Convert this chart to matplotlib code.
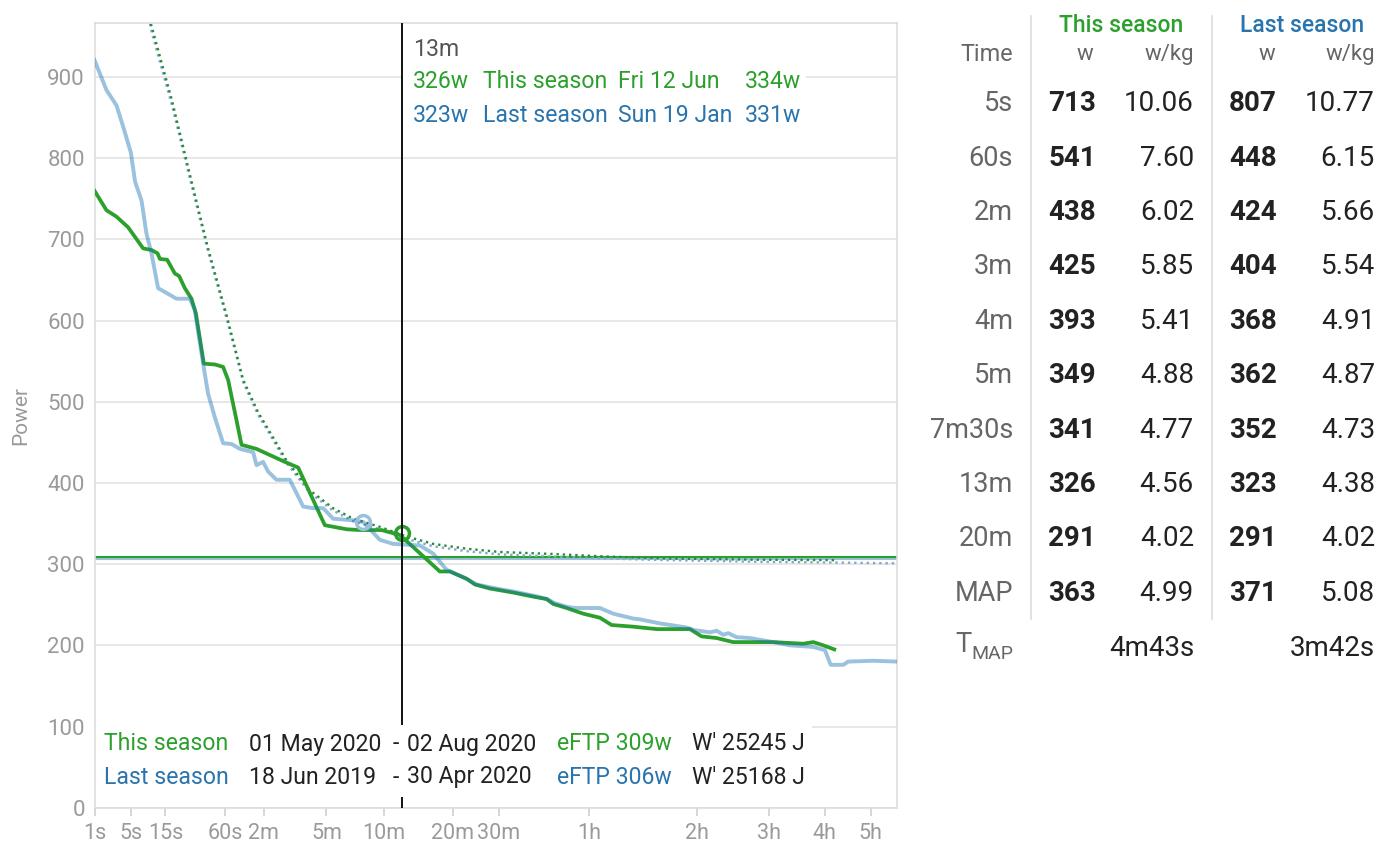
import numpy as np
import matplotlib
matplotlib.use("Agg")
import matplotlib.pyplot as plt
from matplotlib.patches import Rectangle
from matplotlib.lines import Line2D

plt.rcParams['font.family'] = ['Roboto', 'DejaVu Sans']

# ---------------- data ----------------
this_t = [1, 1.83, 2.86, 4.52, 7.65, 9.97, 11.95, 12.8, 15.7, 19.3, 21.5, 24.8, 29.1, 32.2,
          38.5, 48.6, 57.5, 63.4, 74.4, 81.5, 106, 167, 203.5, 294, 387.6, 455, 583, 711,
          1062, 1168, 1361, 1465, 1668, 2026, 2376, 2635, 2770, 3059, 3450, 3879, 4202,
          4852, 5637, 6915, 7413, 8087, 8889, 11060, 12933, 13610, 14309, 15110]
this_w = [760, 736, 728, 715, 689, 687, 683, 676, 675, 658, 655, 640, 627, 609,
          547, 546, 543, 527, 477, 447, 442, 426, 419, 348, 343, 342, 342, 336,
          291, 291, 282, 275, 270, 265, 260, 257, 251, 246, 239, 234, 225,
          223, 220, 220, 211, 209, 204, 204, 202, 204, 200, 195]

last_t = [1, 1.83, 2.86, 3.78, 5, 5.83, 7.25, 8.53, 9.97, 12.15, 16.1, 20.1, 28, 31.4,
          37.9, 42.2, 48.6, 57.5, 67.7, 79.1, 100.1, 106, 118.5, 128.6, 147, 180, 218.6,
          251, 287.5, 327.5, 420, 472.8, 572, 662, 873.8, 996, 1132, 1361, 1487, 1700,
          2050, 2400, 2650, 2800, 3100, 3290, 3879, 4248, 4852, 5067, 5755, 6779, 7053,
          7781, 8087, 8398, 8640, 9059, 9751, 11060, 12077, 13610, 14430, 14845, 15791,
          16178, 18226, 20311]
last_w = [921, 884, 865, 838, 807, 771, 748, 707, 683, 640, 633, 627, 627, 613,
          547, 510, 481, 449, 448, 442, 438, 422, 426, 414, 404, 404, 371,
          369, 369, 356, 354, 352, 330, 325, 323, 313, 293, 282, 275, 271,
          266, 261, 257, 252, 247, 246, 246, 239, 233, 232, 227, 222, 219,
          216, 218, 213, 215, 210, 209, 204, 200, 198, 194, 176, 176,
          180, 181, 180]

this_model_t = [7.5, 9.7, 17.9, 28, 42, 62, 84, 109, 125, 171, 240, 327, 420, 572, 763,
                996, 1361, 1816, 2770, 4000, 6000, 10000, 15100]
this_model_w = [1060, 967, 871, 780, 690, 605, 527, 487, 470, 428, 391, 369, 356, 346, 334,
                325, 319, 315, 312.5, 309.5, 307, 305.5, 305]
last_model_t = [7.5, 9.7, 17.9, 28, 42, 62, 84, 109, 125, 171, 240, 327, 420, 572, 763,
                996, 1361, 1816, 2770, 4000, 6000, 10000, 15100, 20311]
last_model_w = [1050, 960, 865, 775, 686, 601, 524, 484, 467, 425, 388, 366, 353, 343, 331,
                322, 316, 312, 309.5, 307, 305, 303, 302, 301]

eftp_this = 309
eftp_last = 306
cursor_t = 724
this_marker_t, this_marker_w = [724], [338]
last_marker_t, last_marker_w = [473], [352]

xtick_s = [1, 5, 15, 60, 120, 300, 600, 1200, 1800, 3600, 7200, 10800, 14400, 18000]
xtick_labels = ['1s', '5s', '15s', '60s', '2m', '5m', '10m', '20m', '30m', '1h', '2h', '3h', '4h', '5h']
ytick_vals = [0, 100, 200, 300, 400, 500, 600, 700, 800, 900]

tab_durations = ['5s', '60s', '2m', '3m', '4m', '5m', '7m30s', '13m', '20m', 'MAP']
tab_this_w = [713, 541, 438, 425, 393, 349, 341, 326, 291, 363]
tab_this_wkg = ['10.06', '7.60', '6.02', '5.85', '5.41', '4.88', '4.77', '4.56', '4.02', '4.99']
tab_last_w = [807, 448, 424, 404, 368, 362, 352, 323, 291, 371]
tab_last_wkg = ['10.77', '6.15', '5.66', '5.54', '4.91', '4.87', '4.73', '4.38', '4.02', '5.08']
tab_tmap = ['4m43s', '3m42s']

GREEN = '#2ca02c'
BLUE = '#1f77b4'
TXTBLUE = '#2a74ad'
GRAY = '#9a9a9a'

# ---------------- figure ----------------
W, H = 1400, 866
fig = plt.figure(figsize=(14, 8.66), dpi=100)
L, R, T, B = 94.5, 896.7, 22.7, 807.7
ax = fig.add_axes([L / W, 1 - B / H, (R - L) / W, (B - T) / H])


def fwd(x):
    x = np.asarray(x, dtype=float)
    return np.sign(x) * np.abs(x) ** 0.25


def inv(x):
    x = np.asarray(x, dtype=float)
    return np.sign(x) * np.abs(x) ** 4


ax.set_xscale('function', functions=(fwd, inv))
ax.set_xlim(1, 20311)
ax.set_ylim(0, 967)

for v in ytick_vals:
    ax.axhline(v, color='#e3e3e3', lw=1.2, zorder=0)

ax.axhline(eftp_last, color='#9cc0dc', lw=1.5, zorder=1)
ax.axhline(eftp_this, color=GREEN, lw=1.5, zorder=1)

ax.plot(last_model_t, last_model_w, color='#7fa9cf', lw=1.7, ls=':', zorder=2)
ax.plot(this_model_t, this_model_w, color='#2a8a3a', lw=1.7, ls=':', zorder=2)

ax.plot(this_t, this_w, color=GREEN, lw=2.7, zorder=3, solid_joinstyle='round')
ax.plot(last_t, last_w, color=BLUE, alpha=0.45, lw=2.8, zorder=4, solid_joinstyle='round')

ax.plot(last_marker_t, last_marker_w, 'o', ms=10, mfc='none', mec='#9cc0dc', mew=2.5, zorder=5)
ax.plot(this_marker_t, this_marker_w, 'o', ms=10, mfc='none', mec=GREEN, mew=2.5, zorder=5)

ax.axvline(cursor_t, color='#111111', lw=1.4, zorder=6)

for s in ax.spines.values():
    s.set_color('#dddddd')
    s.set_linewidth(1.2)

ax.set_xticks(xtick_s)
ax.set_xticklabels(xtick_labels)
ax.xaxis.set_minor_locator(matplotlib.ticker.NullLocator())
ax.set_yticks(ytick_vals)
ax.tick_params(axis='x', length=6, width=1.2, color='#d0d0d0', labelcolor=GRAY, labelsize=15.5, pad=5)
ax.tick_params(axis='y', length=0, labelcolor=GRAY, labelsize=16, pad=7)
ax.set_ylabel('Power', color=GRAY, fontsize=15, labelpad=12)


def px2ax(px, py):
    return (px - L) / (R - L), (B - py) / (B - T)


# legend box (white) at bottom
x0, y0 = px2ax(95.5, 797)
x1, y1 = px2ax(812, 725)
ax.add_patch(Rectangle((x0, y0), x1 - x0, y1 - y0, transform=ax.transAxes,
                       facecolor='white', edgecolor='none', zorder=7))
# tooltip box
x0, y0 = px2ax(403, 132)
x1, y1 = px2ax(806, 30)
ax.add_patch(Rectangle((x0, y0), x1 - x0, y1 - y0, transform=ax.transAxes,
                       facecolor='white', edgecolor='none', zorder=7))


def ft(px, py, s, **kw):
    kw.setdefault('va', 'center')
    fig.text(px / W, 1 - py / H, s, zorder=10, **kw)


# tooltip text
FS = 16.6
ft(412.7, 50, '13m', color='#555555', fontsize=FS)
ft(412.7, 82, '326w', color=GREEN, fontsize=FS)
ft(482.7, 82, 'This season', color=GREEN, fontsize=FS)
ft(618.3, 82, 'Fri 12 Jun', color=GREEN, fontsize=FS)
ft(745, 82, '334w', color=GREEN, fontsize=FS)
ft(412.7, 115, '323w', color=TXTBLUE, fontsize=FS)
ft(482.7, 115, 'Last season', color=TXTBLUE, fontsize=FS)
ft(618.3, 115, 'Sun 19 Jan', color=TXTBLUE, fontsize=FS)
ft(745, 115, '331w', color=TXTBLUE, fontsize=FS)

# legend text
ft(104, 744, 'This season', color=GREEN, fontsize=FS)
ft(249, 744, '01 May 2020', color='#222222', fontsize=FS)
ft(393, 744, '-', color='#222222', fontsize=FS)
ft(407, 744, '02 Aug 2020', color='#222222', fontsize=FS)
ft(557, 744, 'eFTP 309w', color=GREEN, fontsize=FS)
ft(692, 744, "W' 25245 J", color='#222222', fontsize=FS)
ft(104, 777, 'Last season', color=TXTBLUE, fontsize=FS)
ft(249, 777, '18 Jun 2019', color='#222222', fontsize=FS)
ft(393, 777, '-', color='#222222', fontsize=FS)
ft(407, 777, '30 Apr 2020', color='#222222', fontsize=FS)
ft(557, 777, 'eFTP 306w', color=TXTBLUE, fontsize=FS)
ft(692, 777, "W' 25168 J", color='#222222', fontsize=FS)

# ---------------- table ----------------
LAB = '#666666'
VAL = '#222222'
TF = 19.5
VF = 20
ft(1121, 25.4, 'This season', color=GREEN, fontsize=16.5, fontweight='medium', ha='center')
ft(1302, 25.4, 'Last season', color=TXTBLUE, fontsize=16.5, fontweight='medium', ha='center')
ft(1013, 54.8, 'Time', color=LAB, fontsize=16.8, ha='right')
ft(1085, 54.8, 'w', color=LAB, fontsize=16, ha='center')
ft(1194, 54.8, 'w/kg', color=LAB, fontsize=16, ha='right')
ft(1267, 54.8, 'w', color=LAB, fontsize=16, ha='center')
ft(1375, 54.8, 'w/kg', color=LAB, fontsize=16, ha='right')

for i, d in enumerate(tab_durations):
    y = 103.8 + i * 54.4
    ft(1013, y, d, color=LAB, fontsize=TF, ha='right')
    ft(1048, y, str(tab_this_w[i]), color=VAL, fontsize=VF, fontweight='bold', ha='left')
    ft(1194, y, tab_this_wkg[i], color=VAL, fontsize=VF, ha='right')
    ft(1229, y, str(tab_last_w[i]), color=VAL, fontsize=VF, fontweight='bold', ha='left')
    ft(1375, y, tab_last_wkg[i], color=VAL, fontsize=VF, ha='right')

ft(971, 645, 'T', color=LAB, fontsize=TF, ha='right')
ft(1013, 654, 'MAP', color=LAB, fontsize=14, ha='right')
ft(1194, 648, tab_tmap[0], color=VAL, fontsize=VF, ha='right')
ft(1375, 648, tab_tmap[1], color=VAL, fontsize=VF, ha='right')

for xs in (1030.7, 1211.7):
    fig.add_artist(Line2D([xs / W, xs / W], [1 - 15.6 / H, 1 - 619 / H],
                          transform=fig.transFigure, color='#dcdcdc', lw=1.2))

fig.savefig('out.png', dpi=100)
